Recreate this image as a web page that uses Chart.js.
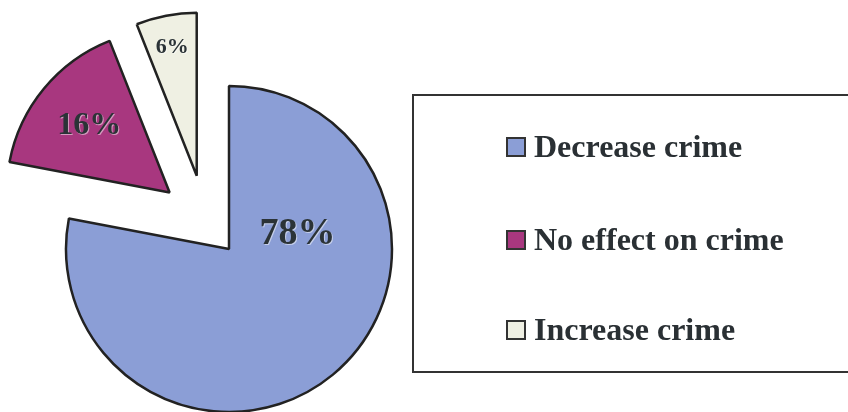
<!DOCTYPE html>
<html>
<head>
<meta charset="utf-8">
<script src="https://cdn.jsdelivr.net/npm/chart.js@4.4.1/dist/chart.umd.min.js"></script>
<style>
  html, body { margin: 0; padding: 0; background: #fff; }
  #wrap { position: relative; width: 848px; height: 412px; overflow: hidden; }
  #legend {
    position: absolute; left: 412px; top: 94px; width: 460px; height: 279px;
    border: 2px solid #333; box-sizing: border-box;
    font-family: "Liberation Serif", "Times New Roman", serif; font-weight: bold;
    font-size: 32px; color: #2a3034;
  }
  .item { position: absolute; left: 92px; height: 36px; line-height: 36px; white-space: nowrap; }
  .item i {
    display: inline-block; width: 16px; height: 16px; border: 2px solid #333;
    vertical-align: middle; margin-right: 8px; position: relative; top: -3px;
  }
</style>
</head>
<body>
<div id="wrap">
  <canvas id="pie" width="848" height="412"></canvas>
  <div id="legend"></div>
</div>
<script>
// data
var labels = ["Decrease crime", "No effect on crime", "Increase crime"];
var values = [78, 16, 6];
var colors = ["#8b9ed6", "#a8377f", "#eff0e3"];

// pull-out of the small slices (distance px, angle tweak deg)
var explode = [[0, 0], [82, 4], [80, -13]];
// label placement (radius fraction, angle override deg from 12 o'clock or null)
var labelPos = [[0.43, 78], [0.64, null], [0.8, null]];
var labelSize = [38, 32, 22];

var explodePlugin = {
  id: 'explode',
  afterUpdate: function(chart) {
    var arcs = chart.getDatasetMeta(0).data;
    arcs.forEach(function(a, i) {
      var mid = (a.startAngle + a.endAngle) / 2 + explode[i][1] * Math.PI / 180;
      a.x += Math.cos(mid) * explode[i][0];
      a.y += Math.sin(mid) * explode[i][0];
    });
  },
  afterDatasetsDraw: function(chart) {
    var ctx = chart.ctx;
    var arcs = chart.getDatasetMeta(0).data;
    ctx.save();
    ctx.textAlign = 'center';
    ctx.textBaseline = 'middle';
    arcs.forEach(function(a, i) {
      var ang = labelPos[i][1] == null ? (a.startAngle + a.endAngle) / 2
                                       : (labelPos[i][1] - 90) * Math.PI / 180;
      var r = a.outerRadius * labelPos[i][0];
      var x = a.x + Math.cos(ang) * r, y = a.y + Math.sin(ang) * r;
      ctx.font = 'bold ' + labelSize[i] + 'px "Liberation Serif", serif';
      ctx.fillStyle = 'rgba(255,255,255,0.5)';
      ctx.fillText(values[i] + '%', x + 1, y + 1);
      ctx.fillStyle = '#2b3337';
      ctx.fillText(values[i] + '%', x, y);
    });
    ctx.restore();
  }
};

new Chart(document.getElementById('pie'), {
  type: 'pie',
  data: {
    labels: labels,
    datasets: [{
      data: values,
      backgroundColor: colors,
      borderColor: '#222',
      borderWidth: 2.5
    }]
  },
  options: {
    responsive: false,
    animation: false,
    events: [],
    radius: 163,
    layout: { padding: { top: 86, right: 390, left: 0, bottom: 0 } },
    plugins: { legend: { display: false }, tooltip: { enabled: false } }
  },
  plugins: [explodePlugin]
});

// legend
var tops = [126, 219, 309];
var lg = document.getElementById('legend');
labels.forEach(function(t, i) {
  var d = document.createElement('div');
  d.className = 'item';
  d.style.top = (tops[i] - 94) + 'px';
  d.innerHTML = '<i style="background:' + colors[i] + '"></i>' + t;
  lg.appendChild(d);
});
</script>
</body>
</html>
